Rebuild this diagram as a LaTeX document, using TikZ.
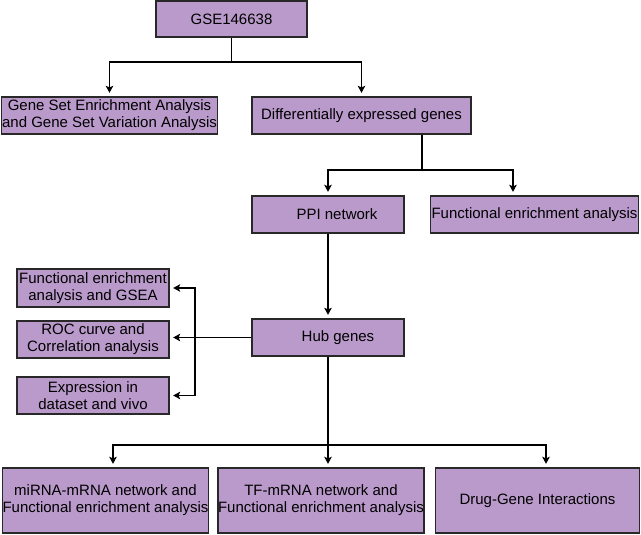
\documentclass[tikz,border=0pt]{standalone}
\usepackage{fontspec}
\setmainfont{Liberation Sans}
\usetikzlibrary{arrows.meta}
\definecolor{boxfill}{RGB}{186,154,203}
\definecolor{boxline}{RGB}{40,40,40}
\tikzset{
  box/.style={draw=boxline, line width=1.3pt, fill=boxfill, inner sep=0pt,
    align=center, font=\fontsize{15}{16.8}\selectfont},
  conn/.style={line width=1.2pt, draw=black},
  arr/.style={conn, -{Stealth[length=7pt,width=7.5pt,inset=1.5pt]}, shorten >=3.5pt},
  arrboth/.style={conn, {Stealth[length=7pt,width=7.5pt,inset=1.5pt]}-{Stealth[length=7pt,width=7.5pt,inset=1.5pt]}, shorten >=3.5pt, shorten <=3.5pt}
}
\begin{document}
\begin{tikzpicture}[x=1pt,y=-1pt]
\useasboundingbox[fill=white] (0,0) rectangle (641,535);

\node[box, minimum width=151pt, minimum height=36pt] (gse) at (231.5,19) {GSE146638};
\node[box, minimum width=216pt, minimum height=37pt] (gsea) at (109.5,115.5) {Gene Set Enrichment Analysis\\and Gene Set Variation Analysis};
\node[box, minimum width=219pt, minimum height=37pt] (deg) at (361.5,115.5) {Differentially expressed genes};
\node[box, minimum width=152pt, minimum height=37pt] (ppi) at (328,214.5) {\hspace*{18pt}PPI network};
\node[box, minimum width=208pt, minimum height=37pt] (fea) at (534.5,214.5) {Functional enrichment analysis};
\node[box, minimum width=152pt, minimum height=37pt] (hub) at (328,337.5) {\hspace*{20pt}Hub genes};
\node[box, minimum width=152pt, minimum height=38pt] (l1) at (93,288) {Functional enrichment\\analysis and GSEA};
\node[box, minimum width=152pt, minimum height=37pt] (l2) at (93,339.5) {ROC curve and\\Correlation analysis};
\node[box, minimum width=152pt, minimum height=37pt] (l3) at (93,395.5) {Expression in\\dataset and vivo};
\node[box, minimum width=205pt, minimum height=65pt] (b1) at (105.5,500.5) {miRNA-mRNA network and\\Functional enrichment analysis};
\node[box, minimum width=204pt, minimum height=65pt] (b2) at (321,500.5) {TF-mRNA network and\\Functional enrichment analysis};
\node[box, minimum width=204pt, minimum height=65pt] (b3) at (537.5,500.5) {Drug-Gene Interactions};

% GSE146638 split
\coordinate (j1) at (231.5,62);
\draw[conn] (gse.south) -- (j1);
\draw[arr] (j1) -| (gsea.north);
\draw[arr] (j1) -| (deg.north);

% DEG split
\coordinate (j2) at (422,170);
\draw[conn] (deg.south -| j2) -- (j2);
\draw[arr] (j2) -| (ppi.north);
\draw[arr] (j2) -| ([xshift=-21.5pt]fea.north);

% PPI -> Hub
\draw[arr] (ppi.south) -- (hub.north);

% Hub -> left boxes
\coordinate (v) at (195,340);
\draw[arr] (hub.west) -- (hub.west -| l2.east);
\draw[arrboth] (l1.east) -| (v) |- (l3.east);

% Hub -> bottom boxes
\coordinate (j3) at (328,445);
\draw[arr] (hub.south) -- (hub.south |- b2.north);
\draw[arr] (j3) -| ([xshift=7.5pt]b1.north);
\draw[arr] (j3) -| ([xshift=8.5pt]b3.north);
\end{tikzpicture}
\end{document}
